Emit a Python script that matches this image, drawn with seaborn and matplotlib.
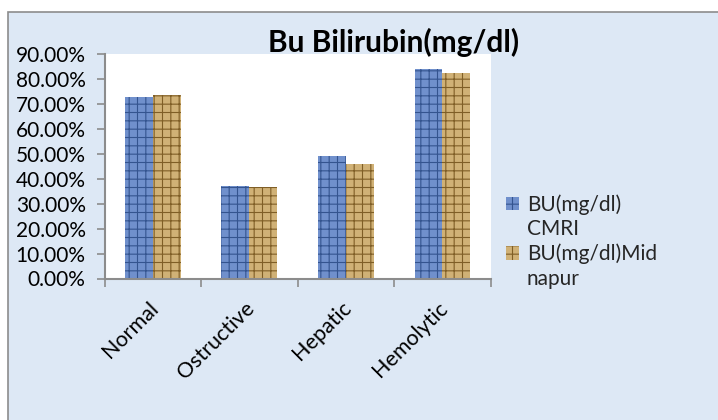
import matplotlib
matplotlib.use("Agg")
import matplotlib.pyplot as plt
import matplotlib.transforms as mtransforms
import seaborn as sns
import pandas as pd
from matplotlib.patches import Rectangle, Patch
from matplotlib.ticker import FixedLocator, FuncFormatter

# ---- data ----
categories = ["Normal", "Ostructive", "Hepatic", "Hemolytic"]
cmri = [0.729, 0.371, 0.493, 0.841]
midnapur = [0.737, 0.367, 0.460, 0.825]
series = ["CMRI", "Midnapur"]
legend_lines = [["BU(mg/dl)", "CMRI"], ["BU(mg/dl)Mid", "napur"]]
yticks = [0.0, 0.1, 0.2, 0.3, 0.4, 0.5, 0.6, 0.7, 0.8, 0.9]
title = "Bu Bilirubin(mg/dl)"

df = pd.DataFrame({
    "cat": categories * 2,
    "val": cmri + midnapur,
    "series": [series[0]] * len(categories) + [series[1]] * len(categories),
})

sns.set_theme(style="white")
plt.rcParams["font.family"] = ["Lato", "DejaVu Sans"]
plt.rcParams["hatch.linewidth"] = 0.8

W, H = 718, 420
fig = plt.figure(figsize=(W / 100, H / 100), dpi=100)
fig.patch.set_facecolor("white")

# chart-area background with border
bg = Rectangle((8 / W, -0.05), 1.2, 1 - 12 / H + 0.05, transform=fig.transFigure,
               facecolor="#dde8f5", edgecolor="#8c8c8c", linewidth=1.2, zorder=-10)
fig.patches.append(bg)

left, right = 104.5 / W, 490.7 / W
bottom, top = 1 - 278.5 / H, 1 - 54.3 / H
ax = fig.add_axes([left, bottom, right - left, top - bottom])

face = {"CMRI": "#7090cc", "Midnapur": "#d0b176"}
hatchc = {"CMRI": "#34548f", "Midnapur": "#7f5e26"}
hatches = {"CMRI": "++", "Midnapur": "++"}

sns.barplot(data=df, x="cat", y="val", hue="series", order=categories,
            hue_order=series, palette=face, width=0.577, ax=ax,
            legend=False, saturation=1)

for cont, s in zip(ax.containers, series):
    for bar in cont:
        bar.set_facecolor(face[s])
        bar.set_edgecolor(hatchc[s])
        bar.set_hatch(hatches[s])
        bar.set_linewidth(0)

ax.set_facecolor("white")
ax.set_ylim(0, 0.9)
ax.set_xlim(-0.5, len(categories) - 0.5)
ax.set_xlabel("")
ax.set_ylabel("")

ax.yaxis.set_major_locator(FixedLocator(yticks))
ax.yaxis.set_major_formatter(FuncFormatter(lambda v, p: f"{v * 100:.2f}%"))

bounds = [i - 0.5 for i in range(len(categories) + 1)]
ax.xaxis.set_major_locator(FixedLocator(bounds))
ax.xaxis.set_major_formatter(FuncFormatter(lambda v, p: ""))
ax.set_xticks(range(len(categories)), minor=True)
ax.set_xticklabels(categories, minor=True)

for sp in ["top", "right"]:
    ax.spines[sp].set_visible(False)
for sp in ["left", "bottom"]:
    ax.spines[sp].set_color("#8c8c8c")
    ax.spines[sp].set_linewidth(1.5)

ax.tick_params(axis="y", which="major", direction="out", length=5.5, width=1.2,
               color="#8c8c8c", labelsize=15, labelcolor="black", pad=8, left=True)
ax.tick_params(axis="x", which="major", direction="out", length=5.5, width=1.2,
               color="#8c8c8c", bottom=True)
ax.tick_params(axis="x", which="minor", length=0, labelsize=15.5, labelcolor="black",
               pad=14, bottom=True)
shift = mtransforms.ScaledTranslation(-5 / 100, 0, fig.dpi_scale_trans)
for lab in ax.get_xticklabels(minor=True):
    lab.set_rotation(45)
    lab.set_ha("right")
    lab.set_va("top")
    lab.set_rotation_mode("anchor")
    lab.set_transform(lab.get_transform() + shift)

# title
fig.text(394 / W, 1 - 42 / H, title, ha="center", va="center",
         fontsize=21.5, fontweight="bold", color="black")

# legend (first line of each entry carries the swatch)
handles, labels = [], []
for s, lines in zip(series, legend_lines):
    handles.append(Patch(facecolor=face[s], edgecolor=hatchc[s], hatch=hatches[s], linewidth=0))
    labels.append(lines[0])
    for extra in lines[1:]:
        handles.append(Patch(visible=False))
        labels.append(extra)
leg = fig.legend(handles, labels, loc="upper left", bbox_to_anchor=(506 / W, 1 - 194 / H),
                 frameon=False, fontsize=15, handlelength=0.6, handleheight=0.6,
                 handletextpad=0.4, labelspacing=0.22, borderpad=0, borderaxespad=0)

fig.savefig("out.png", dpi=100)
